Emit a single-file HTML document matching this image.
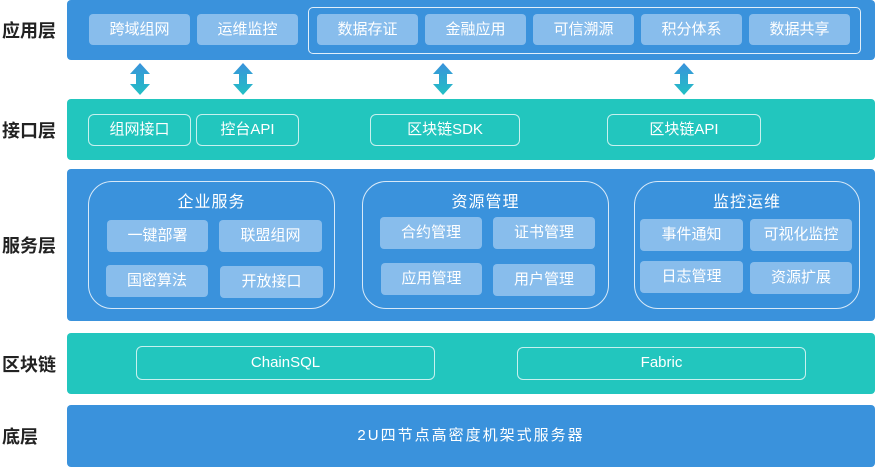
<!DOCTYPE html>
<html><head><meta charset="utf-8"><style>
*{margin:0;padding:0;box-sizing:border-box}
body{width:876px;height:467px;background:#fff;position:relative;overflow:hidden;font-family:"Liberation Sans","Noto Sans CJK SC",sans-serif}
div{position:absolute}
.lbl{left:0;width:64px;font-weight:bold;font-size:18px;color:#222;text-align:left;padding-left:2px}
.blue{background:#3a92dc;border-radius:4px}
.teal{background:#22c6be;border-radius:4px}
.ib{background:#88bdec;border-radius:4px;color:#fff;font-size:15px;text-align:center}
.ob{border:1.5px solid rgba(255,255,255,0.75);border-radius:6px;color:#fff;font-size:15px;text-align:center}
.grp{border:1.5px solid rgba(255,255,255,0.8);border-radius:24px}
.gt{color:#fff;font-size:16px;text-align:center;width:100%;top:6px;letter-spacing:1px}
</style></head><body>
<div class="lbl" style="top:17px">应用层</div>
<div class="lbl" style="top:117px">接口层</div>
<div class="lbl" style="top:232px">服务层</div>
<div class="lbl" style="top:351px">区块链</div>
<div class="lbl" style="top:423px">底层</div>

<div class="blue" style="left:67px;top:0;width:808px;height:60px"></div>
<div class="ib" style="left:89px;top:14px;width:101px;height:31px;line-height:31px">跨域组网</div>
<div class="ib" style="left:197px;top:14px;width:101px;height:31px;line-height:31px">运维监控</div>
<div style="left:308px;top:7px;width:553px;height:47px;border:1.5px solid rgba(255,255,255,0.85);border-radius:5px"></div>
<div class="ib" style="left:317px;top:14px;width:101px;height:31px;line-height:31px">数据存证</div>
<div class="ib" style="left:425px;top:14px;width:101px;height:31px;line-height:31px">金融应用</div>
<div class="ib" style="left:533px;top:14px;width:101px;height:31px;line-height:31px">可信溯源</div>
<div class="ib" style="left:641px;top:14px;width:101px;height:31px;line-height:31px">积分体系</div>
<div class="ib" style="left:749px;top:14px;width:101px;height:31px;line-height:31px">数据共享</div>

<svg width="876" height="100" style="position:absolute;left:0;top:0">
<defs><linearGradient id="g" x1="0" y1="0" x2="0" y2="1"><stop offset="0" stop-color="#3a92dc"/><stop offset="1" stop-color="#22c0c4"/></linearGradient></defs>
<g fill="url(#g)">
<path d="M140 63 L150 74 L144 74 L144 84 L150 84 L140 95 L130 84 L136 84 L136 74 L130 74 Z"/>
<path d="M243 63 L253 74 L247 74 L247 84 L253 84 L243 95 L233 84 L239 84 L239 74 L233 74 Z"/>
<path d="M443 63 L453 74 L447 74 L447 84 L453 84 L443 95 L433 84 L439 84 L439 74 L433 74 Z"/>
<path d="M684 63 L694 74 L688 74 L688 84 L694 84 L684 95 L674 84 L680 84 L680 74 L674 74 Z"/>
</g></svg>

<div class="teal" style="left:67px;top:99px;width:808px;height:61px"></div>
<div class="ob" style="left:88px;top:114px;width:103px;height:32px;line-height:29px">组网接口</div>
<div class="ob" style="left:196px;top:114px;width:103px;height:32px;line-height:29px">控台API</div>
<div class="ob" style="left:370px;top:114px;width:150px;height:32px;line-height:29px">区块链SDK</div>
<div class="ob" style="left:607px;top:114px;width:154px;height:32px;line-height:29px">区块链API</div>

<div class="blue" style="left:67px;top:169px;width:808px;height:152px"></div>
<div class="grp" style="left:88px;top:181px;width:247px;height:128px"><div class="gt">企业服务</div></div>
<div class="ib" style="left:107px;top:220px;width:101px;height:32px;line-height:32px">一键部署</div>
<div class="ib" style="left:219px;top:220px;width:103px;height:32px;line-height:32px">联盟组网</div>
<div class="ib" style="left:106px;top:265px;width:102px;height:32px;line-height:32px">国密算法</div>
<div class="ib" style="left:220px;top:266px;width:103px;height:32px;line-height:32px">开放接口</div>
<div class="grp" style="left:362px;top:181px;width:247px;height:128px"><div class="gt">资源管理</div></div>
<div class="ib" style="left:380px;top:217px;width:102px;height:32px;line-height:32px">合约管理</div>
<div class="ib" style="left:493px;top:217px;width:102px;height:32px;line-height:32px">证书管理</div>
<div class="ib" style="left:381px;top:263px;width:101px;height:32px;line-height:32px">应用管理</div>
<div class="ib" style="left:493px;top:264px;width:102px;height:32px;line-height:32px">用户管理</div>
<div class="grp" style="left:634px;top:181px;width:226px;height:128px"><div class="gt">监控运维</div></div>
<div class="ib" style="left:640px;top:219px;width:103px;height:32px;line-height:32px">事件通知</div>
<div class="ib" style="left:750px;top:219px;width:102px;height:32px;line-height:32px">可视化监控</div>
<div class="ib" style="left:640px;top:261px;width:103px;height:32px;line-height:32px">日志管理</div>
<div class="ib" style="left:750px;top:262px;width:102px;height:32px;line-height:32px">资源扩展</div>

<div class="teal" style="left:67px;top:333px;width:808px;height:61px"></div>
<div class="ob" style="left:136px;top:346px;width:299px;height:34px;line-height:31px">ChainSQL</div>
<div class="ob" style="left:517px;top:347px;width:289px;height:33px;line-height:30px">Fabric</div>

<div class="blue" style="left:67px;top:405px;width:808px;height:62px;color:#fff;font-size:15px;text-align:center;line-height:62px;letter-spacing:2px">2U四节点高密度机架式服务器</div>
</body></html>
